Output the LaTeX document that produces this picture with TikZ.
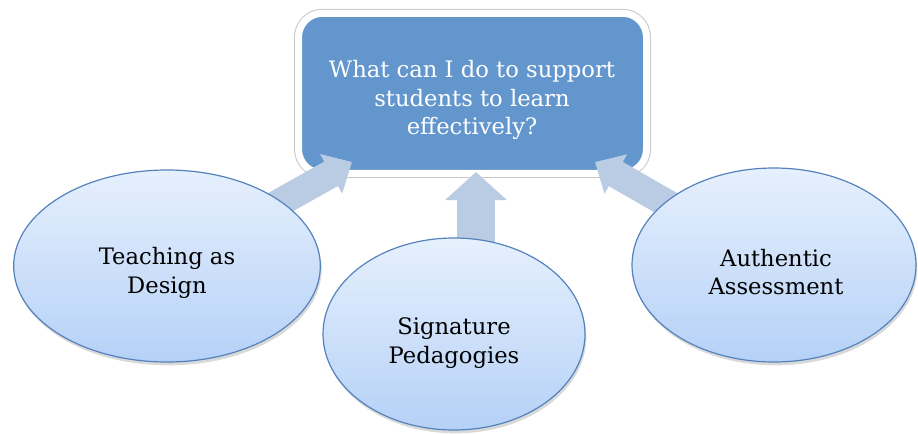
\documentclass[tikz,border=0pt]{standalone}
\usepackage{fontspec}
\setmainfont{DejaVu Serif}
\usetikzlibrary{shapes.geometric,arrows.meta,shadows}

\definecolor{boxblue}{RGB}{99,150,204}
\definecolor{arrowblue}{RGB}{185,204,228}
\definecolor{ovaledge}{RGB}{84,130,188}
\definecolor{ovaltop}{RGB}{230,240,253}
\definecolor{ovalbottom}{RGB}{181,209,247}

\pgfdeclarelayer{boxlayer}
\pgfdeclarelayer{arrowlayer}
\pgfsetlayers{boxlayer,arrowlayer,main}

\tikzset{every picture/.style={line width=0.75pt}}
\tikzset{
  question/.style={rectangle, rounded corners=18pt, fill=boxblue, draw=white, line width=5.25pt,
    preaction={draw=black!22, line width=6.75pt},
    drop shadow={opacity=0.25, shadow xshift=1pt, shadow yshift=-2.5pt},
    minimum width=261pt, minimum height=120pt, inner sep=0pt},
  oval/.style={ellipse, draw=ovaledge, line width=0.9pt, top color=ovaltop, bottom color=ovalbottom,
    drop shadow={opacity=0.3, shadow xshift=1pt, shadow yshift=-2.5pt}, inner sep=0pt},
  label text/.style={inner sep=0pt, align=center, font=\fontsize{17}{21.4}\selectfont},
  sidearrow/.style={draw=arrowblue, line width=21pt, -{Triangle[length=18pt,width=33pt]}},
  uparrow/.style={draw=arrowblue, line width=28.5pt, -{Triangle[length=21pt,width=45pt]}}
}

\begin{document}
\begin{tikzpicture}[x=0.75pt,y=0.75pt,yscale=-1,xscale=1]
	\useasboundingbox (0,0) rectangle (918,433);

	%Shape: Rounded Rect [id:question]
	\begin{pgfonlayer}{boxlayer}
	\node [question] (q) at (472.5,93.25) {};
	\end{pgfonlayer}

	%Shape: Ellipse [id:teaching]
	\node [oval, minimum width=230pt, minimum height=144pt] (tad) at (167,266) {};
	%Shape: Ellipse [id:signature]
	\node [oval, minimum width=196.5pt, minimum height=144pt] (sp) at (454,334) {};
	%Shape: Ellipse [id:authentic]
	\node [oval, minimum width=213pt, minimum height=145.5pt] (aa) at (774,265) {};

	% Arrow tips on the question box
	\coordinate (tipl) at (352,162);
	\coordinate (tipm) at (476,172);
	\coordinate (tipr) at (595,162);

	%Block Arrows
	\begin{pgfonlayer}{arrowlayer}
	\draw [sidearrow] (tad.center) -- (tipl);
	\draw [uparrow, shorten <=-10pt] (sp.north -| tipm) -- (tipm);
	\draw [sidearrow] (aa.center) -- (tipr);
	\end{pgfonlayer}

	% Text Node
	\node [label text, text=white] (qtext) at (472,100) {What can I do to support\\students to learn\\effectively?};
	% Text Node
	\node [label text] (tadtext) at (167,273) {Teaching as\\Design};
	% Text Node
	\node [label text] (sptext) at (454,343) {Signature\\Pedagogies};
	% Text Node
	\node [label text] (aatext) at (776,272) {Authentic\\Assessment};

\end{tikzpicture}
\end{document}
